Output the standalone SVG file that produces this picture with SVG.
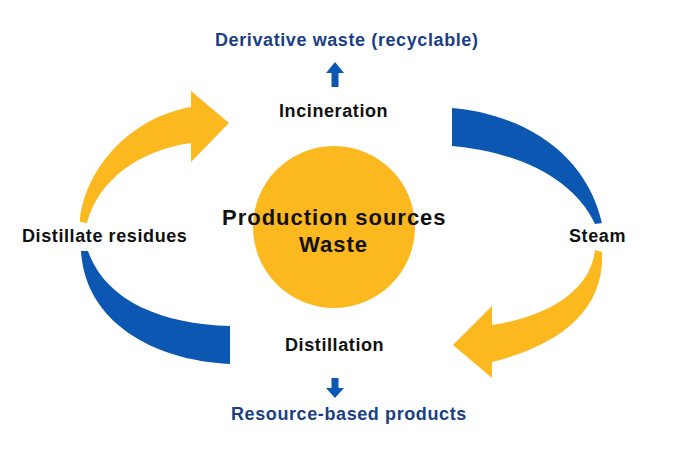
<svg xmlns="http://www.w3.org/2000/svg" width="680" height="460" viewBox="0 0 680 460">
<style>
.y{fill:#FBB81F}
.b{fill:#0B57B1}
.lbl{font-family:"Liberation Sans",Arial,sans-serif;font-weight:bold;font-size:18px;letter-spacing:0.6px;fill:#111}
.out{font-family:"Liberation Sans",Arial,sans-serif;font-weight:bold;font-size:18px;letter-spacing:0.6px;fill:#1B3F84}
.ctr{font-family:"Liberation Sans",Arial,sans-serif;font-weight:bold;font-size:22px;letter-spacing:1px;fill:#111}
</style>
<rect width="680" height="460" fill="#fff"/>
<g id="connectors">
<path class="y" d="M80 222 C82 180 120 120 191 107 L191 91 L229 123 L191 162 L191 143 C140 150 98 180 87 223 Z"/>
<path class="b" d="M452 108 C520 114 585 150 602 223 L595 224 C575 180 520 152 452 146 Z"/>
<path class="b" d="M81 251 C85 320 150 360 230 364 L230 326 C160 324 105 300 88 251 Z"/>
<path class="y" d="M602 252 C605 310 560 345 492 362 L492 378 L453 345 L492 306 L492 325 C540 318 590 295 595 250 Z"/>
<polygon class="b" points="335,62 344,73 338.5,73 338.5,87 331.5,87 331.5,73 326,73"/>
<polygon class="b" points="335,398 344,388 338.5,388 338.5,378 331.5,378 331.5,388 326,388"/>
</g>
<g id="waste">
<circle class="y" cx="334" cy="227" r="81"/>
<text class="ctr" x="222" y="225">Production sources</text>
<text class="ctr" x="299" y="252">Waste</text>
</g>
<g id="incineration"><text class="lbl" x="279" y="117">Incineration</text></g>
<g id="derivative"><text class="out" x="215" y="46">Derivative waste (recyclable)</text></g>
<g id="steam"><text class="lbl" x="569" y="242">Steam</text></g>
<g id="distillation"><text class="lbl" x="285" y="351">Distillation</text></g>
<g id="resource"><text class="out" x="231" y="420">Resource-based products</text></g>
<g id="residues"><text class="lbl" x="22" y="242">Distillate residues</text></g>
</svg>
